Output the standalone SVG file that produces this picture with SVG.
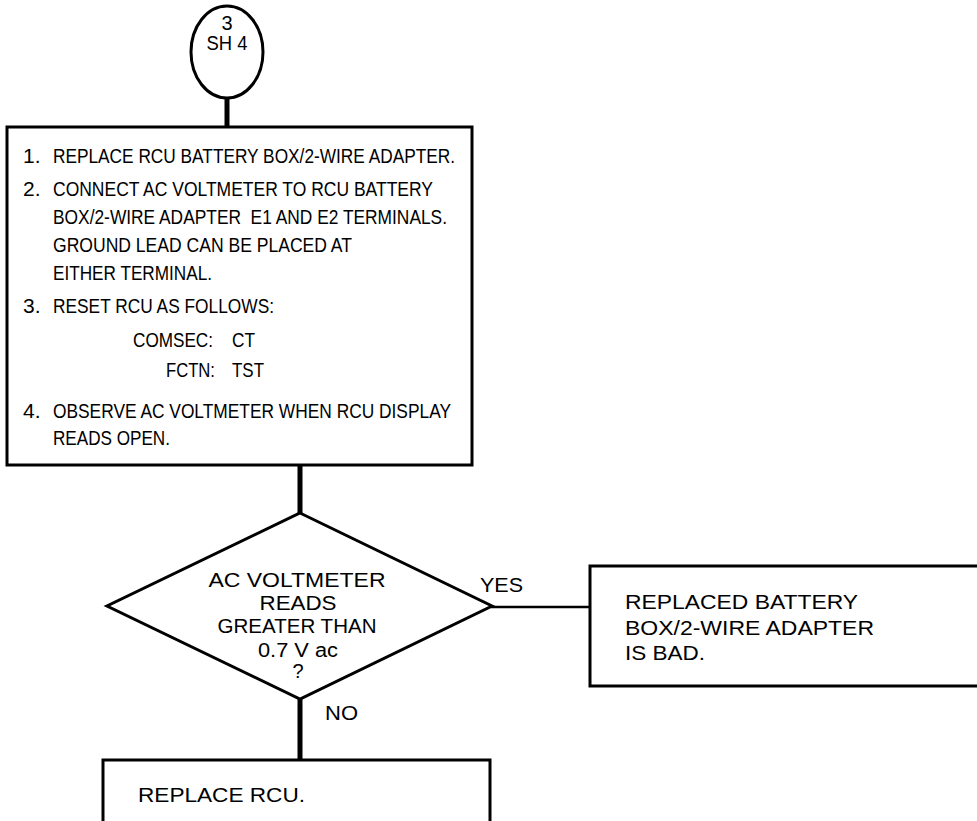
<svg xmlns="http://www.w3.org/2000/svg" width="977" height="821" viewBox="0 0 977 821">
<style>
  .shape { fill: #ffffff; stroke: #000000; stroke-width: 3; }
  .conn { fill: none; stroke: #000000; stroke-linecap: butt; }
  .thick { stroke-width: 5; }
  .thin { stroke-width: 2.5; }
  text { font-family: "Liberation Sans", Arial, Helvetica, sans-serif; fill: #000000; }
  .t { font-size: 21px; }
  .d { font-size: 20px; }
  .mid { text-anchor: middle; }
</style>
<rect width="977" height="821" fill="#ffffff"/>
<g id="connectors">
  <line class="conn thick" x1="227" y1="98" x2="227" y2="128"/>
  <line class="conn thick" x1="300" y1="464" x2="300" y2="514"/>
  <line class="conn thin" x1="491" y1="607" x2="591" y2="607"/>
  <line class="conn thick" x1="300" y1="698" x2="300" y2="761"/>
  <text class="t" x="480" y="592" textLength="43" lengthAdjust="spacingAndGlyphs">YES</text>
  <text class="t" x="325" y="720" textLength="33" lengthAdjust="spacingAndGlyphs">NO</text>
</g>
<g id="ref3">
  <ellipse class="shape" cx="227" cy="52" rx="36" ry="46"/>
  <text class="d mid" x="227" y="30">3</text>
  <text class="d mid" x="227" y="50" textLength="41" lengthAdjust="spacingAndGlyphs">SH 4</text>
</g>
<g id="step1">
  <rect class="shape" x="7" y="127" width="465" height="338"/>
  <text class="t" x="23" y="163">1.</text>
  <text class="t" x="53" y="163" textLength="402" lengthAdjust="spacingAndGlyphs">REPLACE RCU BATTERY BOX/2-WIRE ADAPTER.</text>
  <text class="t" x="23" y="196">2.</text>
  <text class="t" x="53" y="196" textLength="380" lengthAdjust="spacingAndGlyphs">CONNECT AC VOLTMETER TO RCU BATTERY</text>
  <text class="t" x="53" y="224" textLength="394" lengthAdjust="spacingAndGlyphs" xml:space="preserve">BOX/2-WIRE ADAPTER  E1 AND E2 TERMINALS.</text>
  <text class="t" x="53" y="252" textLength="299" lengthAdjust="spacingAndGlyphs">GROUND LEAD CAN BE PLACED AT</text>
  <text class="t" x="53" y="280" textLength="159" lengthAdjust="spacingAndGlyphs">EITHER TERMINAL.</text>
  <text class="t" x="23" y="313">3.</text>
  <text class="t" x="53" y="313" textLength="221" lengthAdjust="spacingAndGlyphs">RESET RCU AS FOLLOWS:</text>
  <text class="t" x="133" y="347" textLength="80" lengthAdjust="spacingAndGlyphs">COMSEC:</text>
  <text class="t" x="232" y="347" textLength="23" lengthAdjust="spacingAndGlyphs">CT</text>
  <text class="t" x="166" y="377" textLength="49" lengthAdjust="spacingAndGlyphs">FCTN:</text>
  <text class="t" x="232" y="377" textLength="32" lengthAdjust="spacingAndGlyphs">TST</text>
  <text class="t" x="23" y="418">4.</text>
  <text class="t" x="53" y="418" textLength="398" lengthAdjust="spacingAndGlyphs">OBSERVE AC VOLTMETER WHEN RCU DISPLAY</text>
  <text class="t" x="53" y="445" textLength="117" lengthAdjust="spacingAndGlyphs">READS OPEN.</text>
</g>
<g id="decision">
  <polygon class="shape" points="300,513 492,606 300,699 107,606"/>
  <text class="d mid" x="297" y="587" textLength="177" lengthAdjust="spacingAndGlyphs">AC VOLTMETER</text>
  <text class="d mid" x="298" y="610" textLength="77" lengthAdjust="spacingAndGlyphs">READS</text>
  <text class="d mid" x="297" y="633" textLength="159" lengthAdjust="spacingAndGlyphs">GREATER THAN</text>
  <text class="d mid" x="298" y="657" textLength="80" lengthAdjust="spacingAndGlyphs">0.7 V ac</text>
  <text class="d mid" x="298" y="678">?</text>
</g>
<g id="bad-adapter">
  <rect class="shape" x="590" y="566" width="400" height="120"/>
  <text class="t" x="625" y="609" textLength="233" lengthAdjust="spacingAndGlyphs">REPLACED BATTERY</text>
  <text class="t" x="625" y="635" textLength="249" lengthAdjust="spacingAndGlyphs">BOX/2-WIRE ADAPTER</text>
  <text class="t" x="625" y="660" textLength="80" lengthAdjust="spacingAndGlyphs">IS BAD.</text>
</g>
<g id="replace-rcu">
  <rect class="shape" x="103" y="760" width="387" height="80"/>
  <text class="t" x="138" y="802" textLength="167" lengthAdjust="spacingAndGlyphs">REPLACE RCU.</text>
</g>
</svg>
